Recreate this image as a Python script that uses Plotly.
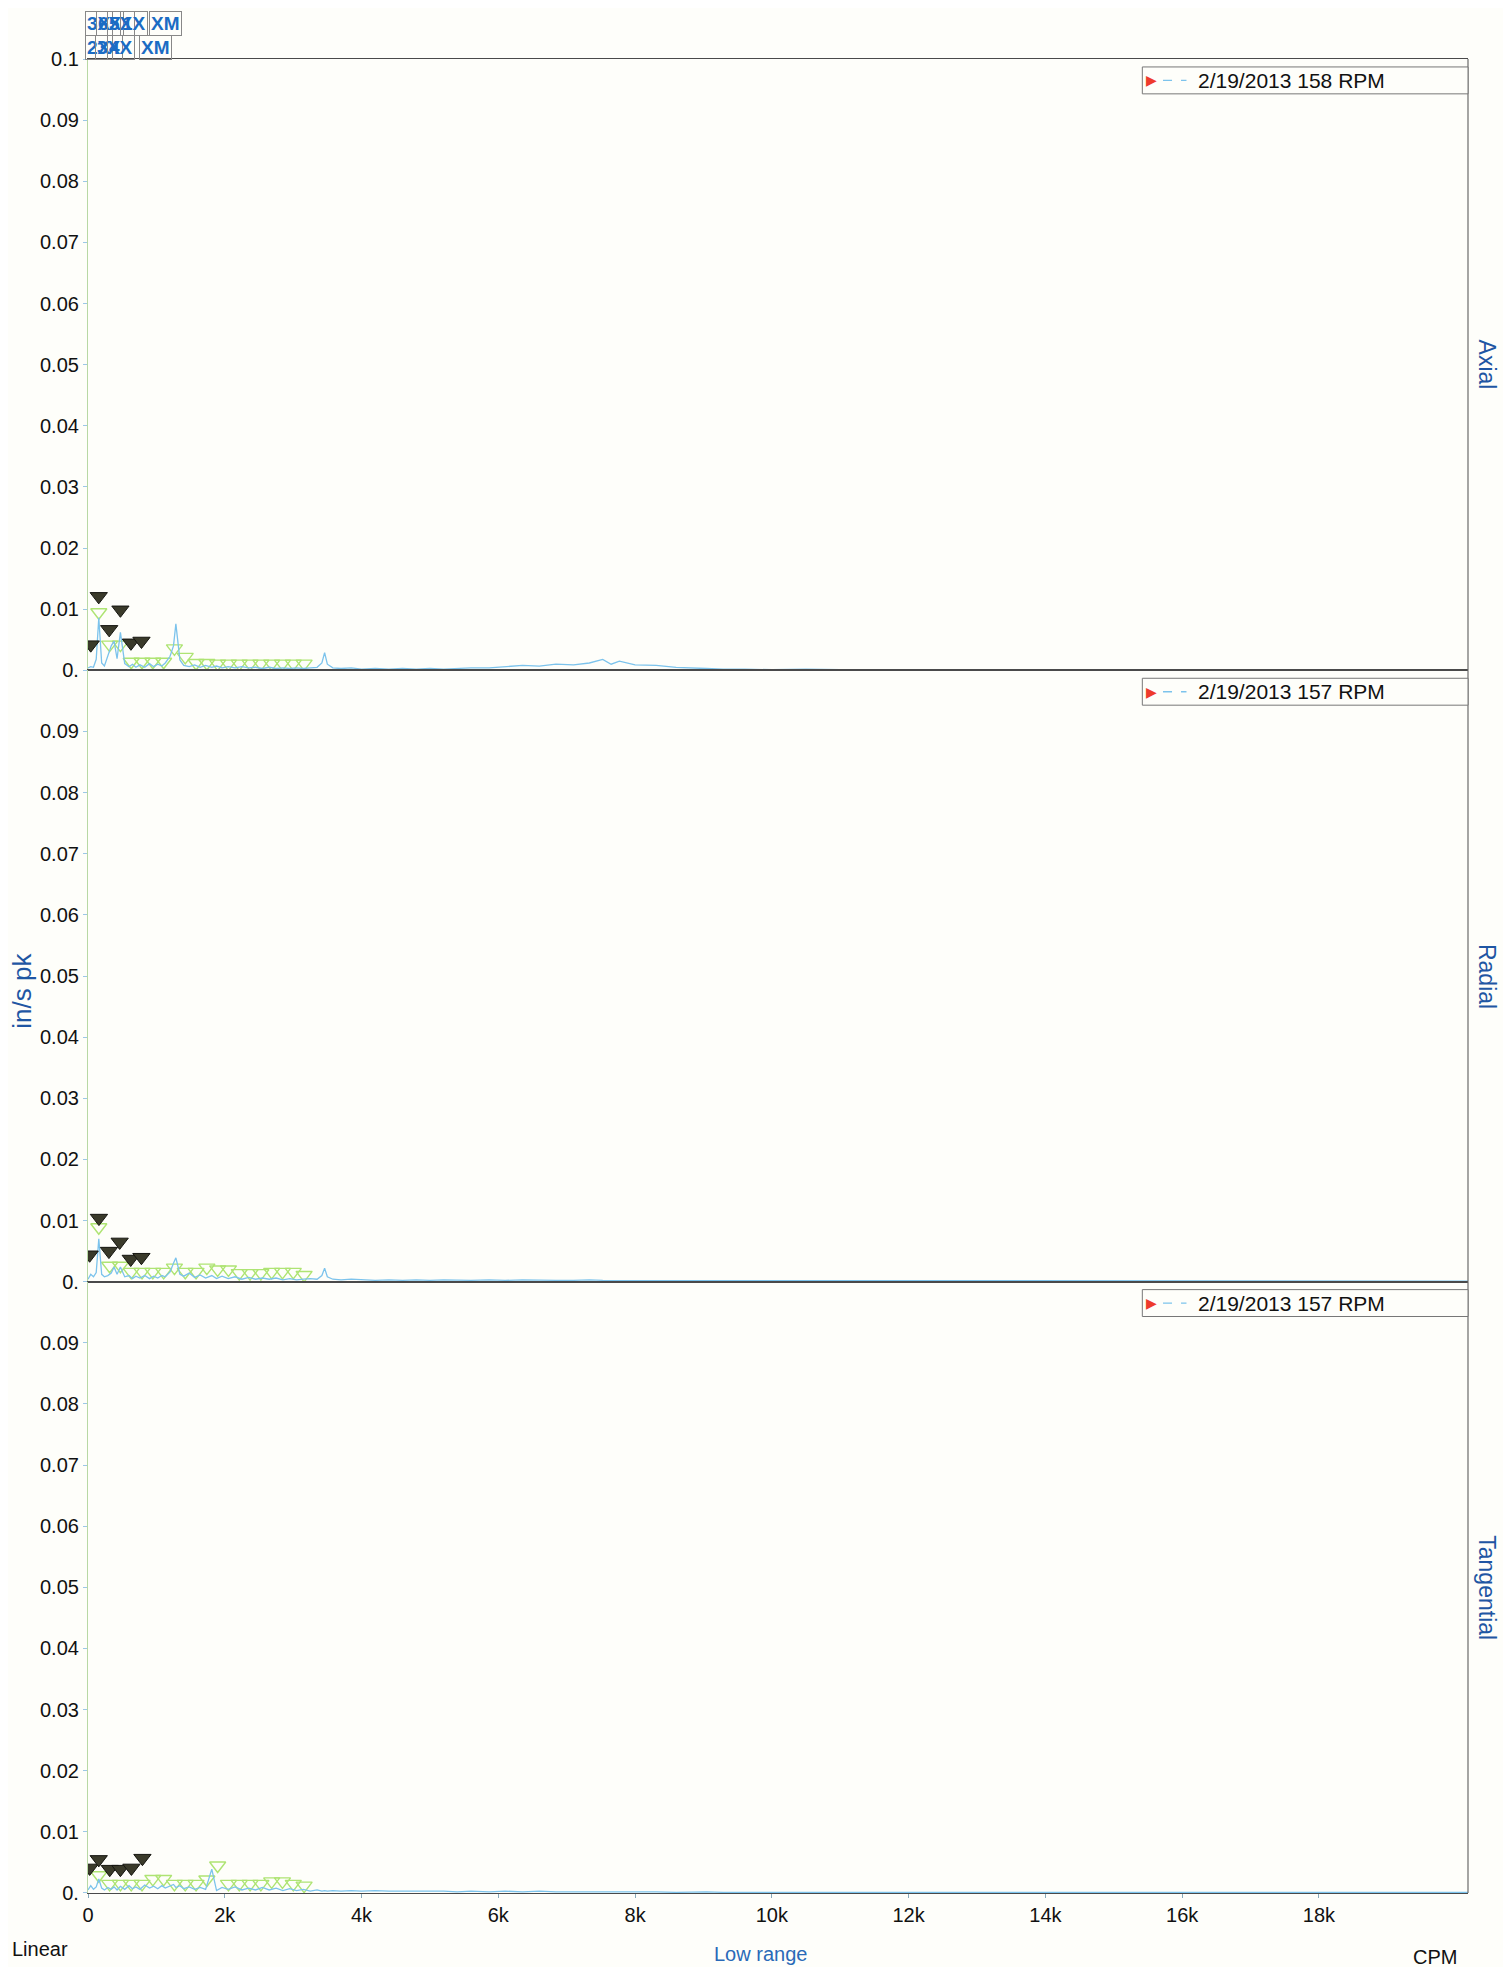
import plotly.graph_objects as go
from plotly.subplots import make_subplots

# ---------------- data ----------------
CPM = [0, 40, 80, 120, 158, 200, 240, 290, 340, 381,
       425, 474, 537, 600, 650, 700, 760, 830, 900, 960,
       1020, 1080, 1130, 1200, 1250, 1285, 1344, 1400, 1480, 1560,
       1640, 1720, 1810, 1880, 1960, 2050, 2150, 2250, 2350, 2450,
       2550, 2650, 2750, 2850, 2950, 3050, 3150, 3250, 3350, 3420,
       3460, 3500, 3580, 3700, 3850, 4000, 4200, 4400, 4600, 4800,
       5000, 5200, 5400, 5600, 5865, 6100, 6354, 6600, 6843, 7100,
       7331, 7527, 7650, 7771, 8000, 8309, 8600, 9042, 9286, 9600,
       10000, 10500, 11000, 12000, 13000, 14000, 15000, 16000, 17000, 18000,
       19000, 20180]

AXIAL = [0.0004, 0.0006, 0.0005, 0.0018, 0.0086, 0.0012, 0.0007, 0.0023, 0.0040, 0.0048,
         0.0019, 0.0062, 0.0011, 0.0006, 0.0010, 0.0005, 0.0009, 0.0005, 0.0011, 0.0006,
         0.0010, 0.0007, 0.0012, 0.0023, 0.0040, 0.0076, 0.0017, 0.0008, 0.0006, 0.0009,
         0.0005, 0.0008, 0.0005, 0.0007, 0.0004, 0.0006, 0.0004, 0.0006, 0.0004, 0.0005,
         0.0003, 0.0005, 0.0003, 0.0004, 0.0003, 0.0004, 0.0003, 0.0004, 0.0005, 0.0012,
         0.0029, 0.0010, 0.0004, 0.0003, 0.0004, 0.0002, 0.0003, 0.0002, 0.0003, 0.0002,
         0.0003, 0.0002, 0.0003, 0.0004, 0.0004, 0.0006, 0.0008, 0.0007, 0.0010, 0.0009,
         0.0012, 0.0018, 0.0010, 0.0015, 0.0009, 0.0008, 0.0005, 0.0003, 0.0002, 0.0002,
         0.0001, 0.0002, 0.0001, 0.0001, 0.0001, 0.0001, 0.0001, 0.0001, 0.0001, 0.0001,
         0.0001, 0.0001]

RADIAL = [0.0004, 0.0012, 0.0008, 0.0015, 0.0070, 0.0012, 0.0008, 0.0010, 0.0014, 0.0024,
          0.0012, 0.0024, 0.0008, 0.0010, 0.0005, 0.0009, 0.0006, 0.0010, 0.0005, 0.0009,
          0.0006, 0.0010, 0.0008, 0.0016, 0.0030, 0.0039, 0.0012, 0.0009, 0.0014, 0.0007,
          0.0011, 0.0006, 0.0010, 0.0005, 0.0009, 0.0005, 0.0008, 0.0004, 0.0007, 0.0004,
          0.0006, 0.0004, 0.0006, 0.0003, 0.0005, 0.0003, 0.0004, 0.0005, 0.0004, 0.0010,
          0.0022, 0.0008, 0.0004, 0.0003, 0.0004, 0.0003, 0.0002, 0.0003, 0.0002, 0.0003,
          0.0002, 0.0003, 0.0002, 0.0002, 0.0003, 0.0002, 0.0003, 0.0002, 0.0002, 0.0002,
          0.0003, 0.0002, 0.0002, 0.0002, 0.0002, 0.0001, 0.0002, 0.0001, 0.0001, 0.0001,
          0.0001, 0.0001, 0.0001, 0.0001, 0.0001, 0.0001, 0.0001, 0.0001, 0.0001, 0.0001,
          0.0001, 0.0001]

TANGENTIAL = [0.0005, 0.0012, 0.0006, 0.0010, 0.0023, 0.0008, 0.0005, 0.0009, 0.0006, 0.0010,
              0.0005, 0.0011, 0.0006, 0.0012, 0.0007, 0.0010, 0.0006, 0.0013, 0.0008, 0.0011,
              0.0007, 0.0012, 0.0008, 0.0011, 0.0014, 0.0009, 0.0012, 0.0007, 0.0010, 0.0006,
              0.0009, 0.0006, 0.0039, 0.0004, 0.0009, 0.0006, 0.0010, 0.0005, 0.0008, 0.0005,
              0.0009, 0.0005, 0.0008, 0.0004, 0.0007, 0.0004, 0.0006, 0.0003, 0.0005, 0.0003,
              0.0004, 0.0003, 0.0004, 0.0003, 0.0004, 0.0003, 0.0004, 0.0003, 0.0003, 0.0004,
              0.0003, 0.0003, 0.0002, 0.0003, 0.0002, 0.0003, 0.0002, 0.0003, 0.0002, 0.0002,
              0.0002, 0.0003, 0.0002, 0.0002, 0.0002, 0.0002, 0.0001, 0.0002, 0.0001, 0.0001,
              0.0001, 0.0001, 0.0001, 0.0001, 0.0001, 0.0001, 0.0001, 0.0001, 0.0001, 0.0001,
              0.0001, 0.0001]

# peak (harmonic) markers - dark filled triangles
AX_PK_CPM = [40, 157, 310, 474, 628, 782]
AX_PK_VAL = [0.0042, 0.0121, 0.0067, 0.0099, 0.0045, 0.0048]
RA_PK_CPM = [24, 160, 306, 463, 625, 781]
RA_PK_VAL = [0.0044, 0.0104, 0.0050, 0.0065, 0.0037, 0.0040]
TA_PK_CPM = [24, 157, 318, 474, 635, 796]
TA_PK_VAL = [0.0041, 0.0055, 0.0039, 0.0039, 0.0041, 0.0057]

# reference markers - light green open triangles
GREEN_CPM = [158, 316, 474, 632, 790, 948, 1106, 1264, 1422, 1580,
             1738, 1896, 2054, 2212, 2370, 2528, 2686, 2844, 3002, 3160]
AX_GREEN = [0.0095, 0.0042, 0.0042, 0.0014, 0.0014, 0.0014, 0.0014, 0.0036, 0.0022, 0.0012,
            0.0012, 0.0011, 0.0011, 0.0011, 0.0011, 0.0011, 0.0011, 0.0011, 0.0011, 0.0011]
RA_GREEN = [0.0089, 0.0026, 0.0026, 0.0016, 0.0016, 0.0016, 0.0016, 0.0023, 0.0016, 0.0016,
            0.0023, 0.0020, 0.0020, 0.0014, 0.0014, 0.0014, 0.0016, 0.0016, 0.0016, 0.0011]
TA_GREEN = [0.0029, 0.0015, 0.0015, 0.0015, 0.0015, 0.0023, 0.0023, 0.0015, 0.0015, 0.0015,
            0.0022, 0.0045, 0.0015, 0.0015, 0.0015, 0.0015, 0.0019, 0.0019, 0.0015, 0.0012]

PANEL_NAMES = ["Axial", "Radial", "Tangential"]
LEGEND_TEXT = ["2/19/2013 158 RPM", "2/19/2013 157 RPM", "2/19/2013 157 RPM"]

X_TICKS = [0, 2000, 4000, 6000, 8000, 10000, 12000, 14000, 16000, 18000]
X_TICK_TEXT = ["0", "2k", "4k", "6k", "8k", "10k", "12k", "14k", "16k", "18k"]
Y_TICKS = [0, 0.01, 0.02, 0.03, 0.04, 0.05, 0.06, 0.07, 0.08, 0.09, 0.1]
Y_TICK_TEXT = ["0.", "0.01", "0.02", "0.03", "0.04", "0.05", "0.06", "0.07", "0.08", "0.09", "0.1"]

# ---------------- figure ----------------
FONT = "Liberation Sans, Arial, sans-serif"
BG = "#fefefa"
BLUE_TXT = "#1f56a3"

fig = make_subplots(rows=3, cols=1, shared_xaxes=True, vertical_spacing=0)

series = [
    (AXIAL, AX_PK_CPM, AX_PK_VAL, AX_GREEN),
    (RADIAL, RA_PK_CPM, RA_PK_VAL, RA_GREEN),
    (TANGENTIAL, TA_PK_CPM, TA_PK_VAL, TA_GREEN),
]

for i, (amp, pk_c, pk_v, grn) in enumerate(series):
    r = i + 1
    fig.add_trace(go.Scatter(x=GREEN_CPM, y=grn, mode="markers",
                             marker=dict(symbol="triangle-down-open", size=14,
                                         color="#aee473", line=dict(width=1.4, color="#aee473")),
                             hoverinfo="skip"), row=r, col=1)
    fig.add_trace(go.Scatter(x=CPM, y=amp, mode="lines",
                             line=dict(color="#7cc3ec", width=1.3)), row=r, col=1)
    fig.add_trace(go.Scatter(x=pk_c, y=pk_v, mode="markers",
                             marker=dict(symbol="triangle-down", size=15, color="#3a3a2a",
                                         line=dict(color="#151510", width=1))), row=r, col=1)

    yk = "yaxis" if r == 1 else f"yaxis{r}"
    xk = "xaxis" if r == 1 else f"xaxis{r}"
    tv = Y_TICKS if r == 1 else Y_TICKS[:-1]
    tt = Y_TICK_TEXT if r == 1 else Y_TICK_TEXT[:-1]
    fig.layout[yk].update(range=[0, 0.1], tickvals=tv, ticktext=tt, showgrid=False,
                          zeroline=False, showline=True, linecolor="#b8d8a4", linewidth=1.2,
                          ticks="outside", ticklen=4, tickcolor="#9cc7e6", automargin=False,
                          tickfont=dict(family=FONT, size=20, color="#111"))
    fig.layout[xk].update(range=[0, 20180], tickvals=X_TICKS, ticktext=X_TICK_TEXT,
                          showgrid=False, zeroline=False, showline=True, mirror=True,
                          linecolor="#4a4a4a", linewidth=1.3, automargin=False,
                          ticks="outside" if r == 3 else "", ticklen=4, tickcolor="#8ab",
                          tickfont=dict(family=FONT, size=20, color="#111"))

    yref = "y" if r == 1 else f"y{r}"
    xref = "x" if r == 1 else f"x{r}"
    xd, yd = f"{xref} domain", f"{yref} domain"
    # right border
    fig.add_shape(type="line", xref=xd, yref=yd, x0=1, x1=1, y0=0, y1=1,
                  line=dict(color="#6a6a6a", width=1.2))
    # legend box
    fig.add_shape(type="rect", xref=xd, yref=yd, x0=0.764, x1=1.0, y0=0.943, y1=0.987,
                  line=dict(color="#777", width=1), fillcolor=BG)
    fig.add_shape(type="line", xref=xd, yref=yd, x0=0.779, x1=0.796, y0=0.965, y1=0.965,
                  line=dict(color="#7cc3ec", width=1.3, dash="dash"))
    fig.add_annotation(xref=xd, yref=yd, x=0.771, y=0.965, xanchor="center", yanchor="middle",
                       text="▶", showarrow=False,
                       font=dict(family="DejaVu Sans", size=14, color="#ee3a2c"))
    fig.add_annotation(xref=xd, yref=yd, x=0.803, y=0.965, xanchor="left", yanchor="middle",
                       text=LEGEND_TEXT[i], showarrow=False,
                       font=dict(family=FONT, size=21, color="#111"))
    # right side label
    fig.add_annotation(xref=xd, yref=yd, x=1.0138, y=0.5, xanchor="center", yanchor="middle",
                       text=PANEL_NAMES[i], textangle=90, showarrow=False,
                       font=dict(family=FONT, size=23, color=BLUE_TXT))

# y title
fig.add_annotation(xref="paper", yref="paper", x=-0.0478, y=0.492, xanchor="center",
                   yanchor="middle", text="in/s pk", textangle=-90, showarrow=False,
                   font=dict(family=FONT, size=26, color=BLUE_TXT))
# bottom labels
fig.add_annotation(xref="paper", yref="paper", x=-0.0565, y=-0.0305, xanchor="left",
                   yanchor="middle", text="Linear", showarrow=False,
                   font=dict(family=FONT, size=20, color="#111"))
fig.add_annotation(xref="paper", yref="paper", x=0.487, y=-0.0333, xanchor="center",
                   yanchor="middle", text="Low range", showarrow=False,
                   font=dict(family=FONT, size=20, color="#2a6ab8"))
fig.add_annotation(xref="paper", yref="paper", x=0.976, y=-0.0349, xanchor="center",
                   yanchor="middle", text="CPM", showarrow=False,
                   font=dict(family=FONT, size=20, color="#111"))

# overlapping harmonic labels top-left
TOP_ROW1 = [("3X", 0.008), ("6X", 0.016), ("5X", 0.024), ("1X", 0.033), ("XM", 0.056)]
TOP_ROW2 = [("2X", 0.008), ("3X", 0.015), ("4X", 0.024), ("XM", 0.049)]
for txt, xp in TOP_ROW1:
    fig.add_annotation(xref="paper", yref="paper", x=xp, y=1.0195, xanchor="center",
                       yanchor="middle", text=f"<b>{txt}</b>", showarrow=False,
                       font=dict(family=FONT, size=19, color="#1b6cc4"),
                       bordercolor="#888", borderwidth=1, borderpad=1)
for txt, xp in TOP_ROW2:
    fig.add_annotation(xref="paper", yref="paper", x=xp, y=1.0065, xanchor="center",
                       yanchor="middle", text=f"<b>{txt}</b>", showarrow=False,
                       font=dict(family=FONT, size=19, color="#1b6cc4"),
                       bordercolor="#888", borderwidth=1, borderpad=1)

fig.update_layout(width=1503, height=1959, showlegend=False,
                  margin=dict(l=80, r=43, t=51, b=74, autoexpand=False),
                  paper_bgcolor=BG, plot_bgcolor=BG,
                  font=dict(family=FONT, size=20, color="#111"))

fig.write_html("out.html")
